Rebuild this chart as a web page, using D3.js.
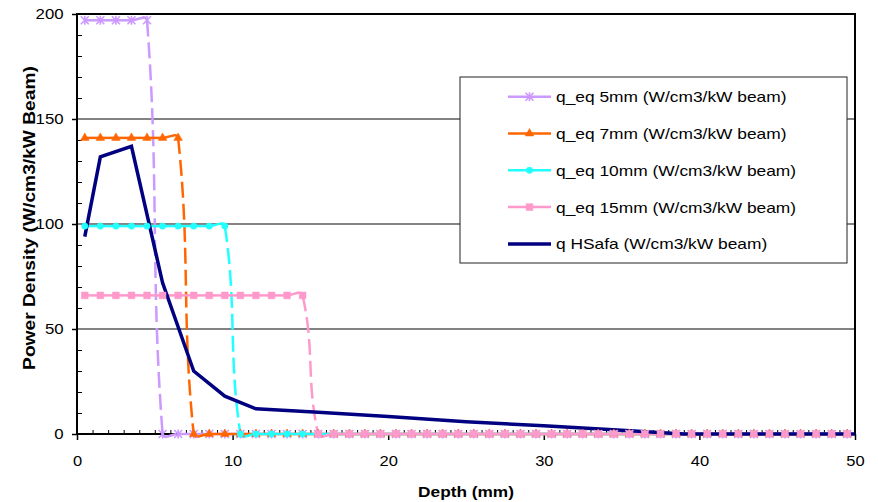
<!DOCTYPE html>
<html>
<head>
<meta charset="utf-8">
<script src="https://cdn.jsdelivr.net/npm/d3@7/dist/d3.min.js"></script>
<style>
  body { margin: 0; background: #fff; }
  text { font-family: "Liberation Sans", Arial, sans-serif; fill: #000; }
</style>
</head>
<body>
<div id="chart"></div>
<script>
// depth points (mm) shared by the four equivalent-depth series
var depth = [
  0.5, 1.5, 2.5, 3.5, 4.5, 5.5, 6.5, 7.5, 8.5, 9.5,
  10.5, 11.5, 12.5, 13.5, 14.5, 15.5, 16.5, 17.5, 18.5, 19.5,
  20.5, 21.5, 22.5, 23.5, 24.5, 25.5, 26.5, 27.5, 28.5, 29.5,
  30.5, 31.5, 32.5, 33.5, 34.5, 35.5, 36.5, 37.5, 38.5, 39.5,
  40.5, 41.5, 42.5, 43.5, 44.5, 45.5, 46.5, 47.5, 48.5, 49.5
];
var eq5 = [
  197, 197, 197, 197, 197, 0, 0, 0, 0, 0,
  0, 0, 0, 0, 0, 0, 0, 0, 0, 0,
  0, 0, 0, 0, 0, 0, 0, 0, 0, 0,
  0, 0, 0, 0, 0, 0, 0, 0, 0, 0,
  0, 0, 0, 0, 0, 0, 0, 0, 0, 0
];
var eq7 = [
  141, 141, 141, 141, 141, 141, 141, 0, 0, 0,
  0, 0, 0, 0, 0, 0, 0, 0, 0, 0,
  0, 0, 0, 0, 0, 0, 0, 0, 0, 0,
  0, 0, 0, 0, 0, 0, 0, 0, 0, 0,
  0, 0, 0, 0, 0, 0, 0, 0, 0, 0
];
var eq10 = [
  99, 99, 99, 99, 99, 99, 99, 99, 99, 99,
  0, 0, 0, 0, 0, 0, 0, 0, 0, 0,
  0, 0, 0, 0, 0, 0, 0, 0, 0, 0,
  0, 0, 0, 0, 0, 0, 0, 0, 0, 0,
  0, 0, 0, 0, 0, 0, 0, 0, 0, 0
];
var eq15 = [
  66, 66, 66, 66, 66, 66, 66, 66, 66, 66,
  66, 66, 66, 66, 66, 0, 0, 0, 0, 0,
  0, 0, 0, 0, 0, 0, 0, 0, 0, 0,
  0, 0, 0, 0, 0, 0, 0, 0, 0, 0,
  0, 0, 0, 0, 0, 0, 0, 0, 0, 0
];
// HSafa profile
var hsafaDepth = [0.5, 1.5, 3.5, 5.5, 7.5, 9.5, 11.5, 15.5, 20, 25, 30, 35, 39, 45, 50];
var hsafa = [94, 132, 137, 72, 30, 18, 12, 10.3, 8.3, 5.8, 3.9, 1.8, 0, 0, 0];

var seriesNames = [
  'q_eq 5mm (W/cm3/kW beam)',
  'q_eq 7mm (W/cm3/kW beam)',
  'q_eq 10mm (W/cm3/kW beam)',
  'q_eq 15mm (W/cm3/kW beam)',
  'q HSafa (W/cm3/kW beam)'
];
var xTicks = [0, 10, 20, 30, 40, 50];
var yTicks = [0, 50, 100, 150, 200];
var gridTicks = [50, 100, 150];

var chart_width = 878;
var chart_height = 502;

var svg = d3.select('#chart')
  .append('svg')
  .attr('width', chart_width)
  .attr('height', chart_height);

var x_scale = d3.scaleLinear().domain([0, 50]).range([77, 855]);
var y_scale = d3.scaleLinear().domain([0, 200]).range([434, 14]);

// gridlines
svg.selectAll('line.grid')
  .data(gridTicks)
  .enter()
  .append('line')
  .attr('x1', x_scale(0))
  .attr('x2', x_scale(50))
  .attr('y1', function(d) { return y_scale(d); })
  .attr('y2', function(d) { return y_scale(d); })
  .attr('stroke', '#5a5a5a')
  .attr('stroke-width', 1.3);

// text squeezed/stretched horizontally like the original export
function wideText(parent, x, y, str, size, sx, rot) {
  var g = parent.append('g')
    .attr('transform', 'translate(' + x + ',' + y + ')' + (rot ? ' rotate(' + rot + ')' : '') + ' scale(' + sx + ',1)');
  return g.append('text').text(str).attr('font-size', size);
}

// axes
var y_axis = d3.axisLeft(y_scale).tickValues(yTicks).tickSize(5).tickPadding(7);
var gy = svg.append('g').attr('transform', 'translate(' + x_scale(0) + ',0)').call(y_axis);
gy.select('.domain').remove();
gy.selectAll('line').attr('stroke', '#000').attr('stroke-width', 1.5);
gy.selectAll('text')
  .attr('font-size', 15)
  .attr('font-family', '"Liberation Sans", Arial, sans-serif')
  .attr('fill', '#000')
  .attr('transform', 'scale(1.12,1)');

var y_minor = d3.axisLeft(y_scale)
  .tickValues(d3.range(10, 200, 10).filter(function(v) { return v % 50 !== 0; }))
  .tickSize(-5).tickFormat('');
var gym = svg.append('g').attr('transform', 'translate(' + x_scale(0) + ',0)').call(y_minor);
gym.select('.domain').remove();
gym.selectAll('line').attr('stroke', '#000').attr('stroke-width', 1);

var x_axis = d3.axisBottom(x_scale).tickValues(xTicks).tickSize(6).tickPadding(15);
var gx = svg.append('g').attr('transform', 'translate(0,' + y_scale(0) + ')').call(x_axis);
gx.select('.domain').remove();
gx.selectAll('line').attr('stroke', '#000').attr('stroke-width', 1.5);
gx.selectAll('text')
  .attr('font-size', 15)
  .attr('font-family', '"Liberation Sans", Arial, sans-serif')
  .attr('fill', '#000')
  .attr('transform', 'scale(1.1,1)');

var x_minor = d3.axisBottom(x_scale)
  .tickValues(d3.range(1, 50, 1).filter(function(v) { return v % 10 !== 0; }))
  .tickSize(-4).tickFormat('');
var gxm = svg.append('g').attr('transform', 'translate(0,' + y_scale(0) + ')').call(x_minor);
gxm.select('.domain').remove();
gxm.selectAll('line').attr('stroke', '#000').attr('stroke-width', 1);

// plot frame
svg.append('path')
  .attr('d', 'M' + x_scale(0) + ',' + y_scale(200) + 'H' + x_scale(50) + 'V' + y_scale(0) + 'H' + x_scale(0) + 'Z')
  .attr('fill', 'none')
  .attr('stroke', '#000')
  .attr('stroke-width', 2);

// axis titles
wideText(svg, (x_scale(0) + x_scale(50)) / 2, 497, 'Depth (mm)', 15, 1.15)
  .attr('font-weight', 'bold')
  .attr('text-anchor', 'middle');
wideText(svg, 35, 218, 'Power Density (W/cm3/kW Beam)', 16, 1.2, -90)
  .attr('font-weight', 'bold')
  .attr('text-anchor', 'middle');

// smoothed line, one path per segment (dash restarts at every point)
function smoothSegments(pts, k) {
  var n = pts.length, segs = [];
  function dir(i) {
    var a = pts[Math.max(i - 1, 0)], b = pts[Math.min(i + 1, n - 1)];
    var dx = b[0] - a[0], dy = b[1] - a[1];
    var len = Math.sqrt(dx * dx + dy * dy) || 1;
    return [dx / len, dy / len];
  }
  for (var i = 0; i < n - 1; i++) {
    var p = pts[i], q = pts[i + 1];
    var L = Math.sqrt((q[0] - p[0]) * (q[0] - p[0]) + (q[1] - p[1]) * (q[1] - p[1])) * k;
    var d1 = dir(i), d2 = dir(i + 1);
    segs.push('M' + p[0] + ',' + p[1] +
      'C' + (p[0] + d1[0] * L) + ',' + (p[1] + d1[1] * L) +
      ' ' + (q[0] - d2[0] * L) + ',' + (q[1] - d2[1] * L) +
      ' ' + q[0] + ',' + q[1]);
  }
  return segs;
}

var asterisk = 'M-4,-4L4,4M-4,4L4,-4M0,-4.5L0,4.5';
var eqSeries = [
  { values: eq5, color: '#cc99ff', marker: 'star' },
  { values: eq7, color: '#ff6600', marker: d3.symbolTriangle, size: 32 },
  { values: eq10, color: '#22ffff', marker: d3.symbolCircle, size: 32 },
  { values: eq15, color: '#ff99cc', marker: d3.symbolSquare, size: 46 }
];

eqSeries.forEach(function(s) {
  var pts = depth.map(function(d, i) { return [x_scale(d), y_scale(s.values[i])]; });
  svg.append('g')
    .selectAll('path')
    .data(smoothSegments(pts, 0.4))
    .enter()
    .append('path')
    .attr('d', function(d) { return d; })
    .attr('fill', 'none')
    .attr('stroke', s.color)
    .attr('stroke-width', 2.5)
    .attr('stroke-dasharray', '16,6');
});

// HSafa line
var hsafaLine = d3.line()
  .x(function(d, i) { return x_scale(hsafaDepth[i]); })
  .y(function(d) { return y_scale(d); });
svg.append('path')
  .datum(hsafa)
  .attr('d', hsafaLine)
  .attr('fill', 'none')
  .attr('stroke', '#000080')
  .attr('stroke-width', 3.5)
  .attr('stroke-linejoin', 'miter');

function markerPath(s) {
  return s.marker === 'star' ? asterisk : d3.symbol().type(s.marker).size(s.size)();
}

// markers
eqSeries.forEach(function(s) {
  svg.append('g')
    .selectAll('path')
    .data(s.values)
    .enter()
    .append('path')
    .attr('transform', function(d, i) { return 'translate(' + x_scale(depth[i]) + ',' + y_scale(d) + ')'; })
    .attr('d', markerPath(s))
    .attr('fill', s.marker === 'star' ? 'none' : s.color)
    .attr('stroke', s.color)
    .attr('stroke-width', s.marker === 'star' ? 1.6 : 0.5);
});

// legend
var legend = svg.append('g');
legend.append('rect')
  .attr('x', 460).attr('y', 77)
  .attr('width', 387).attr('height', 186)
  .attr('fill', '#fff')
  .attr('stroke', '#222')
  .attr('stroke-width', 1);

var legendItems = eqSeries.concat([{ color: '#000080', marker: null }]);
legendItems.forEach(function(s, i) {
  var ly = 96.7 + i * 36.8;
  legend.append('line')
    .attr('x1', 508).attr('x2', 551)
    .attr('y1', ly).attr('y2', ly)
    .attr('stroke', s.color)
    .attr('stroke-width', s.marker ? 2.5 : 3.5);
  if (s.marker) {
    legend.append('path')
      .attr('transform', 'translate(529.5,' + ly + ')')
      .attr('d', markerPath(s))
      .attr('fill', s.marker === 'star' ? 'none' : s.color)
      .attr('stroke', s.color)
      .attr('stroke-width', s.marker === 'star' ? 1.6 : 0.5);
  }
  wideText(legend, 556, ly + 5.5, seriesNames[i], 15, 1.157);
});
</script>
</body>
</html>
